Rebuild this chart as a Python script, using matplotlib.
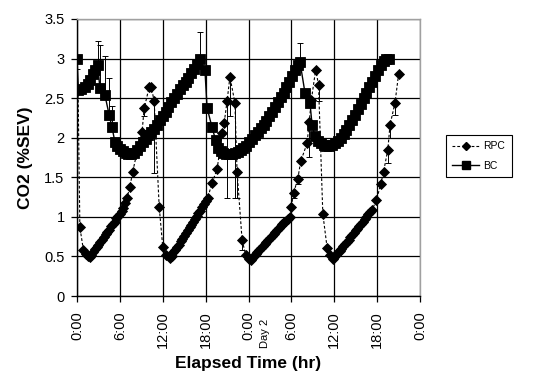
import matplotlib
matplotlib.use("Agg")
import matplotlib.pyplot as plt
from matplotlib.lines import Line2D

plt.rcParams['font.family'] = ['Liberation Sans', 'DejaVu Sans']

# elapsed time in hours, CO2 in %SEV
rpc_time = [0.15, 0.4, 0.9, 1.25, 1.5, 1.75, 2.0, 2.25, 2.5, 2.75, 3.0, 3.25, 3.5, 3.75,
            4.0, 4.25, 4.5, 4.75, 5.0, 5.25, 5.5, 5.75, 6.0, 6.25, 6.5, 6.75, 7.0, 7.4,
            7.8, 8.4, 9.1, 9.4, 10.1, 10.4, 10.8,
            11.5, 12.0, 12.5, 13.0, 13.25, 13.5, 13.75, 14.0, 14.25, 14.5, 14.75, 15.0,
            15.25, 15.5, 15.75, 16.0, 16.25, 16.5, 16.75, 17.0, 17.25, 17.5, 17.75, 18.0,
            18.3, 18.9, 19.6, 20.0, 20.3, 20.6, 21.0, 21.4, 22.1, 22.4,
            23.1, 23.6, 24.0, 24.3, 24.5, 24.75, 25.0, 25.25, 25.5, 25.75, 26.0, 26.25,
            26.5, 26.75, 27.0, 27.25, 27.5, 27.75, 28.0, 28.25, 28.5, 28.75, 29.0, 29.25,
            29.5, 29.8, 30.0, 30.3, 30.9, 31.3, 32.2, 32.5, 32.8, 33.4, 33.8,
            34.4, 35.0, 35.4, 35.8, 36.0, 36.25, 36.5, 36.75, 37.0, 37.25, 37.5, 37.75,
            38.0, 38.25, 38.5, 38.75, 39.0, 39.25, 39.5, 39.75, 40.0, 40.25, 40.5, 40.75,
            41.0, 41.3, 41.9, 42.5, 42.9, 43.5, 43.8, 44.5, 45.0]
rpc_co2 = [2.6, 0.87, 0.58, 0.53, 0.50, 0.49, 0.52, 0.55, 0.59, 0.62, 0.65, 0.68, 0.71, 0.75,
           0.78, 0.81, 0.84, 0.88, 0.91, 0.94, 0.98, 1.01, 1.04, 1.08, 1.11, 1.17, 1.24, 1.38,
           1.57, 1.82, 2.07, 2.37, 2.64, 2.64, 2.46,
           1.13, 0.62, 0.52, 0.48, 0.51, 0.55, 0.58, 0.62, 0.65, 0.69, 0.72, 0.76,
           0.79, 0.83, 0.87, 0.90, 0.94, 0.97, 1.01, 1.05, 1.08, 1.12, 1.16, 1.20,
           1.24, 1.43, 1.60, 1.85, 2.06, 2.19, 2.46, 2.77, 2.44, 1.57,
           0.71, 0.52, 0.47, 0.46, 0.48, 0.51, 0.53, 0.56, 0.58, 0.61, 0.63, 0.66,
           0.68, 0.71, 0.73, 0.76, 0.78, 0.81, 0.83, 0.86, 0.88, 0.91, 0.93, 0.95,
           0.97, 1.00, 1.13, 1.30, 1.48, 1.70, 1.93, 2.20, 2.48, 2.86, 2.67,
           1.04, 0.61, 0.52, 0.47, 0.49, 0.52, 0.55, 0.57, 0.60, 0.63, 0.66, 0.68,
           0.71, 0.74, 0.77, 0.80, 0.83, 0.85, 0.88, 0.91, 0.94, 0.97, 1.00, 1.03,
           1.06, 1.09, 1.21, 1.41, 1.57, 1.85, 2.16, 2.44, 2.80]

bc_time = [0.0, 0.2, 0.6, 1.1, 1.5, 1.8, 2.2, 2.5, 2.9, 3.2, 3.9, 4.5, 4.9, 5.3, 5.6, 6.0,
           6.4, 6.8, 7.2, 7.6, 8.0, 8.4, 8.8, 9.2, 9.6, 10.0, 10.4, 10.8, 11.2, 11.6, 12.0,
           12.4, 12.8, 13.2, 13.6, 14.0, 14.4, 14.8, 15.2, 15.6, 16.0, 16.4, 16.8, 17.2,
           17.9, 18.2, 18.9, 19.4, 19.7, 20.1, 20.5, 20.9, 21.3, 21.7, 22.1, 22.5, 22.9,
           23.3, 23.7, 24.1, 24.5, 24.9, 25.3, 25.7, 26.1, 26.5, 26.9, 27.3, 27.7, 28.1,
           28.5, 28.9, 29.3, 29.7, 30.1, 30.5, 30.9, 31.2,
           31.9, 32.6, 32.9, 33.3, 33.7, 34.1, 34.5, 34.9, 35.3, 35.7, 36.1, 36.5, 36.9,
           37.3, 37.7, 38.1, 38.5, 38.9, 39.3, 39.7, 40.1, 40.5, 40.9, 41.3, 41.7, 42.1,
           42.5, 42.9, 43.3, 43.7]
bc_co2 = [3.00, 2.60, 2.62, 2.64, 2.68, 2.73, 2.80, 2.86, 2.92, 2.63, 2.54, 2.29, 2.13, 1.95,
          1.90, 1.86, 1.83, 1.81, 1.80, 1.80, 1.81, 1.84, 1.89, 1.95, 1.99, 2.03, 2.07, 2.11,
          2.16, 2.22, 2.28, 2.33, 2.39, 2.45, 2.50, 2.55, 2.61, 2.66, 2.71, 2.76, 2.82,
          2.87, 2.93, 2.99,
          2.86, 2.38, 2.13, 1.97, 1.87, 1.83, 1.81, 1.80, 1.80, 1.80, 1.81, 1.82, 1.84,
          1.87, 1.90, 1.94, 1.98, 2.03, 2.07, 2.12, 2.16, 2.21, 2.27, 2.33, 2.39, 2.45,
          2.51, 2.57, 2.64, 2.71, 2.78, 2.85, 2.92, 2.96,
          2.57, 2.44, 2.16, 2.02, 1.96, 1.93, 1.91, 1.90, 1.90, 1.91, 1.93, 1.96, 2.00,
          2.05, 2.10, 2.16, 2.22, 2.29, 2.36, 2.43, 2.50, 2.57, 2.64, 2.71, 2.78, 2.85,
          2.92, 2.97, 3.00, 2.99]

# error bars (time of point, minus, plus)
rpc_err_time = [9.4, 10.8, 21.0, 21.4, 22.1, 22.4, 23.1, 30.3, 30.9, 32.5, 33.8, 43.5, 43.8, 44.5]
rpc_err_minus = [0.10, 0.91, 1.22, 0.50, 1.20, 0.33, 0.13, 0.06, 0.07, 0.44, 0.21, 0.17, 0.16, 0.15]
rpc_err_plus = [0.0] * len(rpc_err_time)

bc_err_time = [0.0, 2.9, 3.2, 3.9, 4.5, 4.9, 17.2, 31.2]
bc_err_minus = [0.13, 0, 0, 0, 0, 0, 0, 0]
bc_err_plus = [0.0, 0.30, 0.54, 0.49, 0.46, 0.27, 0.34, 0.24]

tick_hours = [0, 6, 12, 18, 24, 30, 36, 42, 48]
tick_labels = ["0:00", "6:00", "12:00", "18:00", "0:00", "6:00", "12:00", "18:00", "0:00"]

fig = plt.figure(figsize=(5.33, 3.77), dpi=100)
ax = fig.add_axes([77 / 533, 1 - 296 / 377, 343 / 533, 277 / 377])

ax.set_axisbelow(True)
ax.grid(True, color='black', linewidth=0.9)

# error bars
rpc_lookup = dict(zip(rpc_time, rpc_co2))
bc_lookup = dict(zip(bc_time, bc_co2))
ax.errorbar(rpc_err_time, [rpc_lookup[t] for t in rpc_err_time],
            yerr=[rpc_err_minus, rpc_err_plus], fmt='none', ecolor='black',
            elinewidth=0.7, capsize=2.5, capthick=0.7, zorder=2)
ax.errorbar(bc_err_time, [bc_lookup[t] for t in bc_err_time],
            yerr=[bc_err_minus, bc_err_plus], fmt='none', ecolor='black',
            elinewidth=0.7, capsize=2.5, capthick=0.7, zorder=2)

ax.plot(rpc_time, rpc_co2, color='black', linestyle=(0, (2.5, 1.8)), linewidth=0.8,
        marker='D', markersize=5.0, markerfacecolor='black', markeredgecolor='black',
        markeredgewidth=0.6, zorder=3)
ax.plot(bc_time, bc_co2, color='black', linestyle='-', linewidth=1.0,
        marker='s', markersize=7.5, markerfacecolor='black', markeredgecolor='black',
        markeredgewidth=0.6, zorder=4)

ax.set_xlim(0, 48)
ax.set_ylim(0, 3.5)
ax.set_xticks(tick_hours)
ax.set_xticklabels(tick_labels, rotation=90, va='top', ha='center')
ax.set_yticks([0, 0.5, 1, 1.5, 2, 2.5, 3, 3.5])
ax.set_yticklabels(["0", "0.5", "1", "1.5", "2", "2.5", "3", "3.5"])
ax.tick_params(axis='both', direction='out', length=4, width=0.9, labelsize=10.5,
               colors='black')
ax.tick_params(axis='x', pad=7)
ax.tick_params(axis='y', pad=5)

for side in ['left', 'bottom']:
    ax.spines[side].set_color('black')
    ax.spines[side].set_linewidth(1.0)
for side in ['top', 'right']:
    ax.spines[side].set_color('#a0a0a0')
    ax.spines[side].set_linewidth(1.0)

ax.set_ylabel("CO2 (%SEV)", fontsize=12.5, fontweight='bold', labelpad=8)
ax.set_xlabel("Elapsed Time (hr)", fontsize=12.5, fontweight='bold', labelpad=6)

fig.text(265 / 533, 1 - 333 / 377, "Day 2", rotation=90, fontsize=8,
         ha='center', va='center')

handles = [
    Line2D([], [], color='black', linestyle=(0, (2.5, 1.8)), linewidth=0.8, marker='D',
           markersize=4.5, markerfacecolor='black', markeredgecolor='black'),
    Line2D([], [], color='black', linestyle='-', linewidth=1.0, marker='s',
           markersize=6.0, markerfacecolor='black', markeredgecolor='black'),
]
leg = fig.legend(handles, ["RPC", "BC"], loc='center left',
                 bbox_to_anchor=(446 / 533, 1 - 156 / 377), fontsize=7.5,
                 frameon=True, fancybox=False, edgecolor='black', framealpha=1,
                 handlelength=2.6, borderpad=0.6, labelspacing=0.9, handletextpad=0.4,
                 borderaxespad=0)
leg.get_frame().set_linewidth(0.8)

fig.savefig("out.png", dpi=100)
